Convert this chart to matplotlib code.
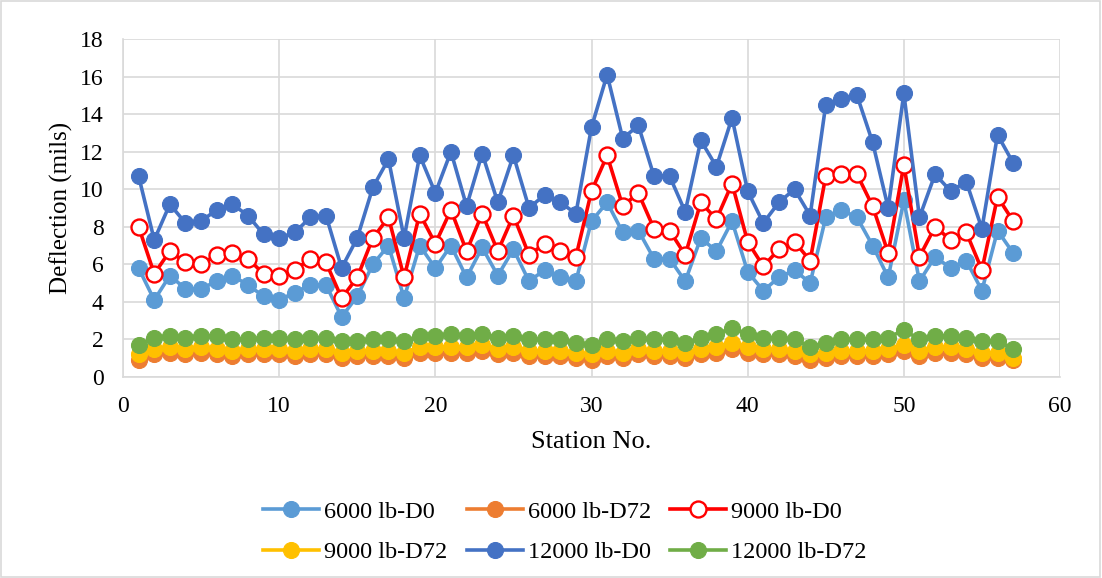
import numpy as np
import matplotlib
matplotlib.use("Agg")
import matplotlib.pyplot as plt
from matplotlib.patches import Rectangle

# ── Data ──────────────────────────────────
stations = list(range(1, 58))

d0_6000 = [5.8, 4.1, 5.4, 4.7, 4.7, 5.1, 5.4, 4.9, 4.3, 4.1,
           4.5, 4.9, 4.9, 3.2, 4.3, 6.0, 7.0, 4.2, 7.0, 5.8,
           7.0, 5.3, 6.9, 5.4, 6.8, 5.1, 5.7, 5.3, 5.1, 8.3,
           9.3, 7.7, 7.8, 6.3, 6.3, 5.1, 7.4, 6.7, 8.3, 5.6,
           4.6, 5.3, 5.7, 5.0, 8.5, 8.9, 8.5, 7.0, 5.3, 9.4,
           5.1, 6.4, 5.8, 6.2, 4.6, 7.8, 6.6]

d72_6000 = [0.9, 1.2, 1.3, 1.2, 1.3, 1.2, 1.1, 1.2, 1.2, 1.2,
            1.1, 1.2, 1.2, 1.0, 1.1, 1.1, 1.1, 1.0, 1.3, 1.3,
            1.3, 1.3, 1.4, 1.2, 1.3, 1.1, 1.1, 1.1, 1.0, 0.9,
            1.1, 1.0, 1.2, 1.1, 1.1, 1.0, 1.2, 1.3, 1.5, 1.3,
            1.2, 1.2, 1.1, 0.9, 1.0, 1.1, 1.1, 1.1, 1.2, 1.4,
            1.1, 1.3, 1.3, 1.2, 1.0, 1.0, 0.9]

d0_9000 = [8.0, 5.5, 6.7, 6.1, 6.0, 6.5, 6.6, 6.3, 5.5, 5.4,
           5.7, 6.3, 6.1, 4.2, 5.3, 7.4, 8.5, 5.3, 8.7, 7.1,
           8.9, 6.7, 8.7, 6.7, 8.6, 6.5, 7.1, 6.7, 6.4, 9.9,
           11.8, 9.1, 9.8, 7.9, 7.8, 6.5, 9.3, 8.4, 10.3, 7.2,
           5.9, 6.8, 7.2, 6.2, 10.7, 10.8, 10.8, 9.1, 6.6, 11.3,
           6.4, 8.0, 7.3, 7.7, 5.7, 9.6, 8.3]

d72_9000 = [1.2, 1.5, 1.6, 1.5, 1.6, 1.5, 1.4, 1.5, 1.5, 1.5,
            1.4, 1.5, 1.5, 1.3, 1.4, 1.4, 1.4, 1.3, 1.6, 1.6,
            1.6, 1.6, 1.7, 1.5, 1.6, 1.4, 1.4, 1.4, 1.3, 1.2,
            1.4, 1.3, 1.5, 1.4, 1.4, 1.3, 1.5, 1.6, 1.8, 1.6,
            1.5, 1.5, 1.4, 1.2, 1.3, 1.4, 1.4, 1.4, 1.5, 1.7,
            1.4, 1.6, 1.6, 1.5, 1.3, 1.3, 1.0]

d0_12000 = [10.7, 7.3, 9.2, 8.2, 8.3, 8.9, 9.2, 8.6, 7.6, 7.4,
            7.7, 8.5, 8.6, 5.8, 7.4, 10.1, 11.6, 7.4, 11.8, 9.8,
            12.0, 9.1, 11.9, 9.3, 11.8, 9.0, 9.7, 9.3, 8.7, 13.3,
            16.1, 12.7, 13.4, 10.7, 10.7, 8.8, 12.6, 11.2, 13.8, 9.9,
            8.2, 9.3, 10.0, 8.6, 14.5, 14.8, 15.0, 12.5, 9.0, 15.1,
            8.5, 10.8, 9.9, 10.4, 7.9, 12.9, 11.4]

d72_12000 = [1.7, 2.1, 2.2, 2.1, 2.2, 2.2, 2.0, 2.0, 2.1, 2.1,
             2.0, 2.1, 2.1, 1.9, 1.9, 2.0, 2.0, 1.9, 2.2, 2.2,
             2.3, 2.2, 2.3, 2.1, 2.2, 2.0, 2.0, 2.0, 1.8, 1.7,
             2.0, 1.9, 2.1, 2.0, 2.0, 1.8, 2.1, 2.3, 2.6, 2.3,
             2.1, 2.1, 2.0, 1.6, 1.8, 2.0, 2.0, 2.0, 2.1, 2.5,
             2.0, 2.2, 2.2, 2.1, 1.9, 1.9, 1.5]

series = [
    ("6000 lb-D0",   d0_6000,   "#5B9BD5", True),
    ("6000 lb-D72",  d72_6000,  "#ED7D31", True),
    ("9000 lb-D0",   d0_9000,   "#FF0000", False),
    ("9000 lb-D72",  d72_9000,  "#FFC000", True),
    ("12000 lb-D0",  d0_12000,  "#4472C4", True),
    ("12000 lb-D72", d72_12000, "#70AD47", True),
]

# ── Plot ──────────────────────────────────
plt.rcParams["font.family"] = ["Liberation Serif", "DejaVu Serif"]

fig = plt.figure(figsize=(11.02, 5.78), dpi=100)
ax = fig.add_axes([123 / 1102, 1 - 377 / 578, (1060 - 123) / 1102, (377 - 39) / 578])

handles = []
for label, vals, color, filled in series:
    h, = ax.plot(stations, vals, "-o", color=color, lw=2.6, markersize=11.5,
                 markerfacecolor=color if filled else "white",
                 markeredgecolor=color, markeredgewidth=1.7 if not filled else 0.8,
                 label=label, clip_on=False)
    handles.append(h)

ax.set_xlim(0, 60)
ax.set_ylim(0, 18)
ax.set_xticks(range(0, 61, 10))
ax.set_yticks(range(0, 19, 2))
ax.grid(True, color="#d9d9d9", lw=1.2)
ax.set_axisbelow(True)
for s in ["top", "right"]:
    ax.spines[s].set_visible(False)
for s in ["left", "bottom"]:
    ax.spines[s].set_color("#d9d9d9")
    ax.spines[s].set_linewidth(1.2)
ax.tick_params(length=0, labelsize=17)
ax.tick_params(axis="y", pad=14)
ax.tick_params(axis="x", pad=14)
ax.set_xlabel("Station No.", fontsize=19, labelpad=10)
ax.set_ylabel("Deflection (mils)", fontsize=18, labelpad=5)

# legend fills column by column, so reorder to get the rows right
order = [0, 3, 1, 4, 2, 5]
ax.legend([handles[i] for i in order], [series[i][0] for i in order],
          loc="center", bbox_to_anchor=(565 / 1102, 1 - 532 / 578),
          bbox_transform=fig.transFigure, ncol=3, frameon=False,
          fontsize=17.5, handlelength=2.3, columnspacing=0.8,
          handletextpad=0.2, labelspacing=0.75, markerscale=1.0,
          borderpad=0)

fig.patches.append(Rectangle((0.001, 0.001), 0.997, 0.997, transform=fig.transFigure,
                             fill=False, edgecolor="#d9d9d9", lw=1.2))

plt.savefig("out.png", dpi=100)
plt.close()
